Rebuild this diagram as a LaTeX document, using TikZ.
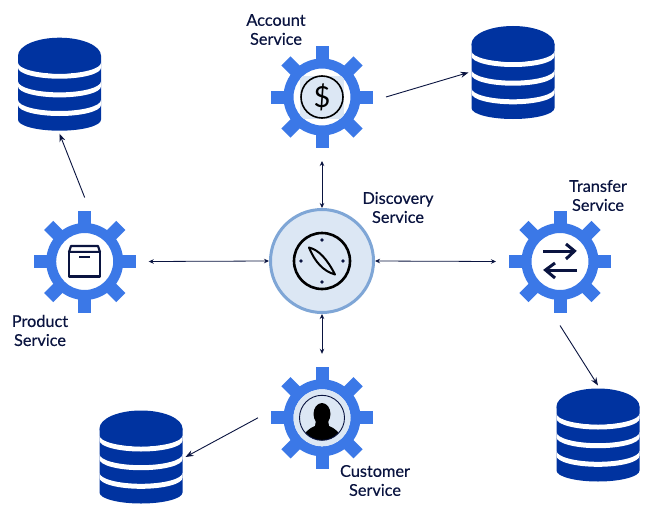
\documentclass[tikz,border=0pt]{standalone}
\usepackage{fontspec}
\setmainfont{Lato}
\newfontfamily\labfont[RawFeature={embolden=0.4}]{Lato}
\usetikzlibrary{arrows.meta}
\definecolor{gearblue}{HTML}{3B78E7}
\definecolor{dbblue}{HTML}{0033A0}
\definecolor{paleblue}{HTML}{DCE7F4}
\definecolor{ringblue}{HTML}{7FA6D6}
\definecolor{inkblue}{HTML}{0A1440}
\tikzset{
  anchorcircle/.style={circle,inner sep=0pt,outer sep=0pt,minimum size=128pt},
  anchorbox/.style={rectangle,inner sep=0pt,outer sep=3pt,minimum width=83pt,minimum height=93pt},
  lab/.style={align=center,text=inkblue,font=\labfont\fontsize{16.3}{19}\selectfont,inner sep=0pt},
  dlink/.style={{Stealth[length=5pt,width=4.5pt]}-{Stealth[length=5pt,width=4.5pt]},line width=0.8pt,draw=inkblue},
  slink/.style={-{Stealth[length=8pt,width=6pt]},line width=0.9pt,draw=inkblue}
}
\newcommand{\gearicon}[2]{%
  \begin{scope}[shift={(#1,#2)}]
    \fill[gearblue,even odd rule] (0,0) circle[radius=38.5pt] (0,0) circle[radius=28.5pt];
    \foreach \a in {0,45,...,315}{
      \fill[gearblue,rotate=\a] (-6.5,-51) rectangle (6.5,-36);
    }
  \end{scope}}
\newcommand{\dbicon}[2]{%
  \begin{scope}[shift={(#1,#2)}]
    \fill[dbblue] (-41.5,18) -- (-41.5,82) arc[start angle=180,end angle=360,x radius=41.5pt,y radius=11pt] -- (41.5,18) -- cycle;
    \foreach \e in {25,43.7,62.3}{
      \fill[white] (-41.5,\e) arc[start angle=180,end angle=360,x radius=41.5pt,y radius=11pt]
        -- ++(0,5) arc[start angle=360,end angle=180,x radius=41.5pt,y radius=11pt] -- cycle;
    }
    \fill[dbblue] (0,18) ellipse[x radius=41.5pt,y radius=18pt];
  \end{scope}}
\begin{document}
\begin{tikzpicture}[x=1pt,y=-1pt]
\useasboundingbox (0,0) rectangle (658,519);
\fill[white] (0,0) rectangle (658,519);

% databases
\dbicon{59.5}{37.7}
\dbicon{513}{26}
\dbicon{598}{388.5}
\dbicon{141}{410.5}
\node[anchorbox] (dbtl) at (59.5,84.2) {};
\node[anchorbox] (dbtr) at (513,72.5) {};
\node[anchorbox] (dbbr) at (598,435) {};
\node[anchorbox] (dbbl) at (141,457) {};

% gears
\gearicon{322}{97}
\gearicon{84.7}{261.5}
\gearicon{560}{261.5}
\gearicon{322}{417.8}
\node[anchorcircle] (acct) at (322,97) {};
\node[anchorcircle] (prod) at (84.7,261.5) {};
\node[anchorcircle] (tran) at (560,261.5) {};
\node[anchorcircle] (cust) at (322,417.8) {};

% account icon
\begin{scope}
  \clip (322,97) circle[radius=28.5pt];
  \fill[paleblue] (300,75.5) rectangle (344,119);
\end{scope}
\draw[black,line width=1.6pt] (322,97) circle[radius=21pt];
\node[inner sep=0pt,text=black,font=\fontsize{29}{29}\selectfont] (dollar) at (322,97) {\$};

% product icon
\draw[inkblue,line width=2.2pt,line join=round,fill=white] (69,252) -- (71,246) -- (98,246) -- (100,252) -- cycle;
\draw[inkblue,line width=2.2pt,line join=round,fill=white] (69,252) rectangle (100,276.5);
\draw[inkblue,line width=2.4pt] (79,257) -- (90,257);

% transfer icon
\draw[inkblue,line width=3pt] (543,251) -- (574,251);
\draw[inkblue,line width=3pt] (566,244) -- (574.5,251) -- (566,259);
\draw[inkblue,line width=3pt] (577,270) -- (546,270);
\draw[inkblue,line width=3pt] (555,263) -- (545.5,270) -- (555,278);

% customer icon
\fill[paleblue] (322,417.8) circle[radius=28.5pt];
\begin{scope}
  \clip (322,417.8) circle[radius=22.5pt];
  \fill[black] (322,414) ellipse[x radius=8.5pt,y radius=11pt];
  \fill[black] (316,420) -- (328,420) -- (329,426) .. controls (336,429) and (340,432) .. (342,442) -- (302,442) .. controls (304,432) and (308,429) .. (315,426) -- cycle;
\end{scope}
\draw[inkblue,line width=0.9pt] (322,417.8) circle[radius=22.5pt];

% discovery
\node[circle,draw=ringblue,fill=paleblue,line width=3pt,minimum size=103pt,inner sep=0pt,outer sep=1.5pt] (disc) at (322,261) {};
\draw[black,line width=2.6pt] (322,261) circle[radius=28pt];
\foreach \dx/\dy in {0/-21,21/0,0/21,-21/0}{
  \fill[inkblue] (322+\dx,261+\dy) circle[radius=1.8pt];
}
\draw[black,line width=2pt,line join=round,fill=paleblue] (309,247.5) .. controls (319,250) and (327,259) .. (335,274.5) .. controls (323,271) and (315,262) .. cycle;

% connectors
\draw[dlink] (acct.south) -- (disc.north);
\draw[dlink] (prod.east) -- (disc.west);
\draw[dlink] (tran.west) -- (disc.east);
\draw[dlink] (cust.north) -- (disc.south);
\draw[slink] (acct.east) -- (dbtr.west);
\draw[slink] (prod.north) -- (dbtl.south);
\draw[slink] (tran.south) -- (dbbr.north);
\draw[slink] (cust.west) -- (dbbl.east);

% labels
\node[lab] (lacct) at (276,29.5) {Account\\Service};
\node[lab] (ldisc) at (398,207.5) {Discovery\\Service};
\node[lab] (ltran) at (598,195.5) {Transfer\\Service};
\node[lab] (lprod) at (40,330.5) {Product\\Service};
\node[lab] (lcust) at (375,480.5) {Customer\\Service};
\end{tikzpicture}
\end{document}
